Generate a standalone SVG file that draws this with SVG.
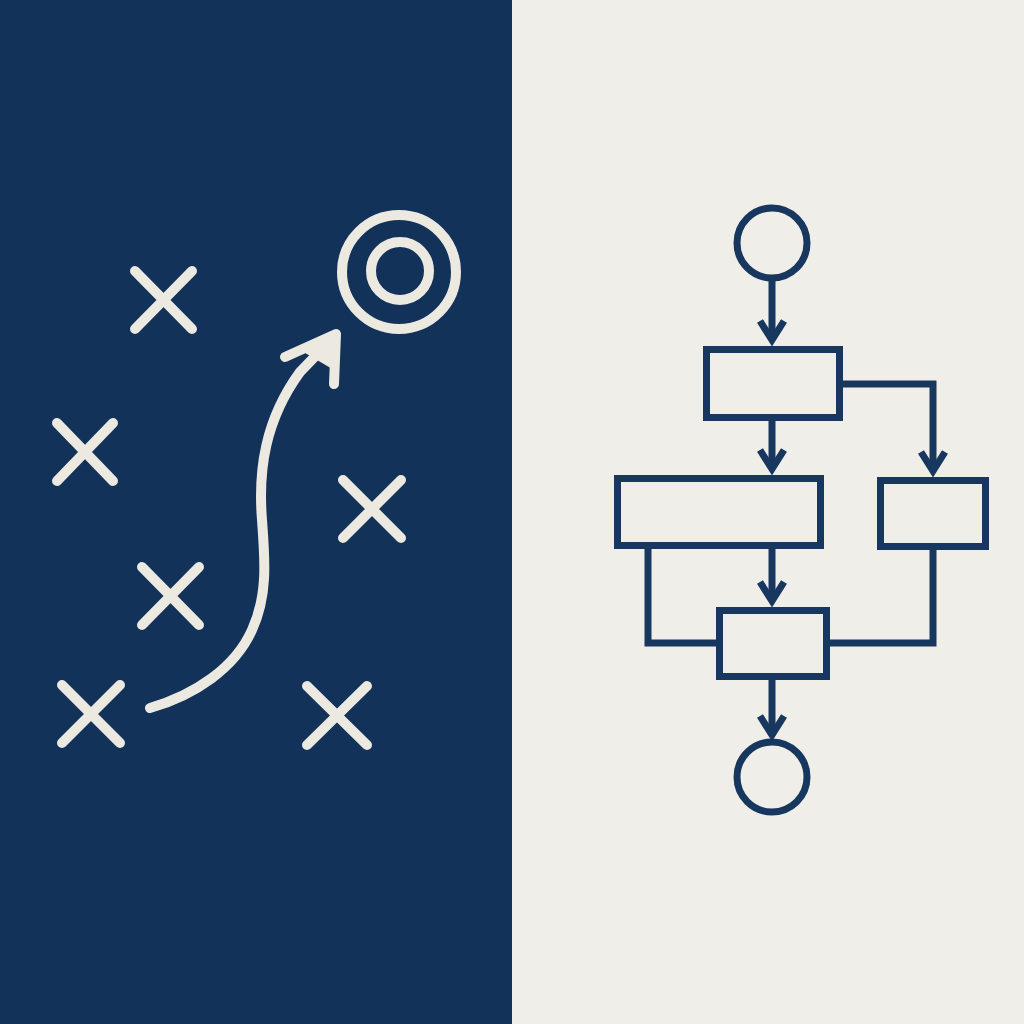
<svg xmlns="http://www.w3.org/2000/svg" width="1024" height="1024" viewBox="0 0 1024 1024">
<defs>
<style>
.chalk{fill:none;stroke:#ece9e1;stroke-width:10;stroke-linecap:round;stroke-linejoin:round}
.ink{fill:none;stroke:#17375e;stroke-width:7;stroke-linejoin:miter;stroke-linecap:square}
.conn{fill:none;stroke:#17375e;stroke-width:7;stroke-linejoin:miter}
</style>
<marker id="chev" markerUnits="userSpaceOnUse" viewBox="-30 -20 40 40" markerWidth="40" markerHeight="40" refX="0" refY="0" orient="auto" overflow="visible">
<path d="M-19,-12 L0,0 L-19,12" fill="none" stroke="#17375e" stroke-width="7" stroke-linejoin="miter"/>
</marker>
</defs>
<rect x="0" y="0" width="512" height="1024" fill="#12325a"/>
<rect x="512" y="0" width="512" height="1024" fill="#f0eee9"/>

<g id="playbook">
<g id="x1"><path class="chalk" d="M135,271 L192,329 M192,271 L135,329"/></g>
<g id="x2"><path class="chalk" d="M57,423 L113,481 M113,423 L57,481"/></g>
<g id="x3"><path class="chalk" d="M343,480 L401,538 M401,480 L343,538"/></g>
<g id="x4"><path class="chalk" d="M142,567 L199,625 M199,567 L142,625"/></g>
<g id="x5"><path class="chalk" d="M62,685 L120,743 M120,685 L62,743"/></g>
<g id="x6"><path class="chalk" d="M307,686 L367,745 M367,686 L307,745"/></g>
<g id="target">
<circle class="chalk" cx="399" cy="272" r="57"/>
<circle class="chalk" cx="400" cy="271" r="29"/>
</g>
<g id="play-arrow">
<path class="chalk" d="M150,708 C195,695 235,668 252,630 C268,595 265,560 262,520 C258,470 265,420 300,372 L332,339"/>
<path class="chalk" d="M285,357 L336,334 L334,384"/>
<path d="M300,350 L336,334 L334,370 Z" fill="#ece9e1"/>
</g>
</g>

<g id="flowchart">
<g id="start"><circle class="ink" cx="772" cy="243" r="35"/></g>
<g id="box-a"><rect class="ink" x="706.5" y="349.5" width="133" height="68"/></g>
<g id="box-b"><rect class="ink" x="617.5" y="478.5" width="203" height="67"/></g>
<g id="box-c"><rect class="ink" x="880.5" y="480.5" width="105" height="66"/></g>
<g id="box-d"><rect class="ink" x="719.5" y="610.5" width="107" height="66"/></g>
<g id="end"><circle class="ink" cx="772" cy="777" r="35"/></g>
<g id="connectors">
<path class="conn" d="M772,278 L772,340" marker-end="url(#chev)"/>
<path class="conn" d="M772,421 L772,469" marker-end="url(#chev)"/>
<path class="conn" d="M843,384 L933,384 L933,471" marker-end="url(#chev)"/>
<path class="conn" d="M772,549 L772,601" marker-end="url(#chev)"/>
<path class="conn" d="M648,549 L648,643 L716,643"/>
<path class="conn" d="M933,550 L933,643 L830,643"/>
<path class="conn" d="M772,680 L772,735" marker-end="url(#chev)"/>
</g>
</g>
</svg>
